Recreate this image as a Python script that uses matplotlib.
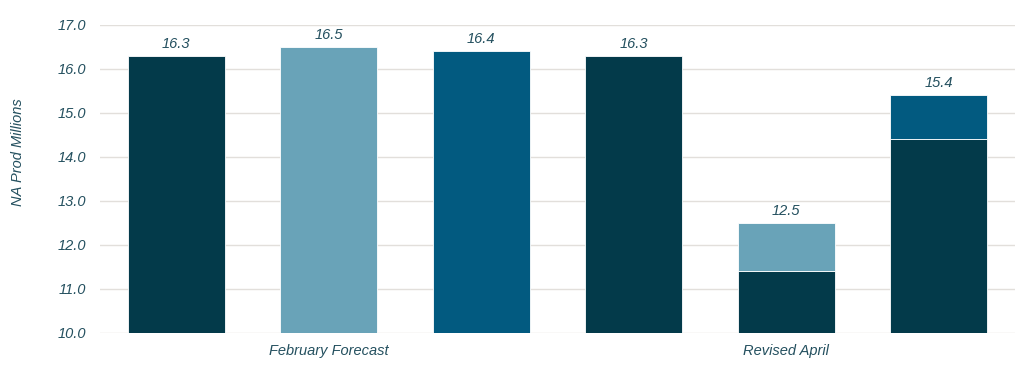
import matplotlib
matplotlib.use("Agg")
import matplotlib.pyplot as plt
import numpy as np

# bar values
bottom_vals = [16.3, 16.5, 16.4, 16.3, 11.4, 14.4]
top_vals = [0, 0, 0, 0, 1.1, 1.0]
totals = [16.3, 16.5, 16.4, 16.3, 12.5, 15.4]
bottom_colors = ["#033a4a", "#69a3b8", "#025a80", "#033a4a", "#033a4a", "#033a4a"]
top_colors = ["#69a3b8", "#69a3b8", "#69a3b8", "#69a3b8", "#69a3b8", "#025a80"]
group_labels = ["February Forecast", "Revised April"]
group_pos = [1, 4]

plt.rcParams["font.family"] = ["Liberation Sans", "DejaVu Sans"]
txt = "#24505f"

fig = plt.figure(figsize=(10.24, 3.69), dpi=100)
ax = fig.add_axes([100 / 1024, 1 - 333 / 369, 915 / 1024, 308 / 369])

x = np.arange(len(bottom_vals))
base = 10.0
ax.bar(x, np.array(bottom_vals) - base, bottom=base, width=0.636,
       color=bottom_colors, edgecolor="white", linewidth=0.6, zorder=2)
mask = np.array(top_vals) > 0
ax.bar(x[mask], np.array(top_vals)[mask], bottom=np.array(bottom_vals)[mask],
       width=0.636, color=np.array(top_colors)[mask], edgecolor="white",
       linewidth=0.6, zorder=2)

for xi, t in zip(x, totals):
    ax.text(xi, t + 0.12, f"{t:.1f}", ha="center", va="bottom",
            fontsize=10.5, style="italic", color=txt)

ax.set_xlim(-0.5, 5.5)
ax.set_ylim(10, 17)
ax.set_yticks(np.arange(10, 17.1, 1))
ax.set_yticklabels([f"{v:.1f}" for v in np.arange(10, 17.1, 1)],
                   fontsize=10.5, style="italic", color=txt)
ax.set_xticks(group_pos)
ax.set_xticklabels(group_labels, fontsize=10.5, style="italic", color=txt)
ax.tick_params(axis="both", length=0)
ax.tick_params(axis="y", pad=10)
ax.tick_params(axis="x", pad=8)
ax.grid(axis="y", color="#e2dfdb", linewidth=1, zorder=0)
for s in ax.spines.values():
    s.set_visible(False)
ax.set_ylabel("NA Prod Millions", fontsize=10.5, style="italic", color=txt)
ax.yaxis.set_label_coords(-0.082, 0.588)

fig.savefig("out.png", dpi=100)
